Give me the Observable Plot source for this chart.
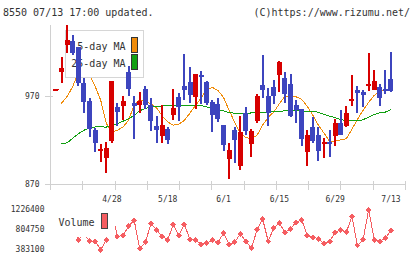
<!DOCTYPE html>
<html><head><meta charset="utf-8">
<script src="https://cdn.jsdelivr.net/npm/d3@7"></script>
<script src="https://cdn.jsdelivr.net/npm/@observablehq/plot@0.6"></script>
<style>
html,body{margin:0;padding:0;background:#fff;}
#wrap{position:relative;width:420px;height:259px;overflow:hidden;font-family:"DejaVu Sans Mono",monospace;}
.hdr{position:absolute;top:7px;font-size:10px;color:#333;line-height:12px;white-space:pre;}
#hl{left:3px;}
#hr{right:10px;}
#price,#vol{position:absolute;left:0;}
#price{top:0;}
#vol{top:200px;}
svg{shape-rendering:crispEdges;}
</style></head><body>
<div id="wrap">
<div class="hdr" id="hl">8550 07/13 17:00 updated.</div>
<div class="hdr" id="hr">(C)https://www.rizumu.net/</div>
<div id="price"></div>
<div id="vol"></div>
</div>
<script>
const opens = [977,998,1028,1033,1026,985,965,931,908,900,
  919,958,959,997,962,960,978,960,936,925,
  933,949,969,982,986,969,994,986,963,961,
  937,899,932,891,951,915,942,983,970,980,
  994,991,984,960,955,906,935,926,915,918,
  925,939,936,965,977,975,982,977,980,978,990];
const highs = [978,1015,1051,1040,1026,991,968,934,915,918,
  987,962,970,1004,970,975,982,968,947,960,
  935,978,974,1018,1003,995,999,987,966,968,
  937,917,935,947,958,933,973,1017,979,988,
  1010,998,995,966,955,932,946,935,922,931,
  944,954,959,994,981,977,1019,1000,984,1000,1020];
const lows = [977,985,1019,1017,981,951,924,906,895,883,
  917,936,943,970,921,951,955,930,917,917,
  915,943,942,966,962,955,961,960,929,941,
  907,876,894,886,926,901,939,968,936,961,
  975,962,946,940,913,891,917,896,900,901,
  913,926,935,959,951,958,976,977,959,973,975];
const closes = [978,1002,1034,1019,985,963,933,917,909,911,
  987,952,964,978,959,964,960,942,932,937,
  920,957,958,977,971,995,992,962,949,944,
  914,909,920,929,930,930,970,977,951,970,
  1009,973,947,954,921,926,919,908,918,915,
  939,926,951,967,974,971,983,987,968,976,976];
const ma5 = [null,962.7,970.3,981.7,997.6,1002.1,995.3,981.7,965.8,939.7,
  929.5,931.8,935.5,943.1,961.3,966.4,965.0,961.8,957.3,948.2,
  941.2,937.5,938.6,943.1,951.4,960.1,968.9,978.3,980.5,977.1,
  969.2,954.5,940.9,928.4,923.3,922.2,926.1,937.5,946.5,952.5,
  961.8,970.3,970.9,969.8,966.9,959.0,948.8,937.5,928.4,919.3,
  919.3,920.8,922.2,932.9,944.3,954.5,963.5,971.5,976.0,977.1,979.4];
const ma25 = [null,916.7,917.4,922.7,927.8,931.8,934.6,935.5,935.5,935.4,
  936.9,939.2,942.0,944.8,948.8,953.9,956.7,957.9,959.0,959.3,
  959.6,959.7,959.7,959.7,959.8,959.9,959.8,958.4,956.7,955.0,
  953.7,951.9,951.1,951.1,951.3,951.4,951.6,952.0,952.7,953.1,
  953.6,953.7,953.7,953.7,953.7,953.6,953.3,952.2,949.9,947.9,
  946.0,943.9,942.6,942.3,942.6,943.7,946.8,949.6,951.6,952.5,955.3];
const volumes = [850000,920000,1050000,960000,593900,726700,564400,564400,383100,593900,
  1180000,663500,684600,884900,1000800,404200,543300,931300,804750,663500,
  593900,916500,684600,916500,593900,593900,494800,522300,593900,543300,
  733100,494800,543300,720400,564400,416800,804750,1036700,564400,846900,
  943900,754200,825800,965000,1015600,684600,648700,615000,509600,558100,
  754200,804750,754200,1085200,473800,593900,1226400,593900,558100,636100,790000];
const dateIdx = [11,21,31,41,51,61];
const dateLabels = ["4/28","5/18","6/1","6/15","6/29","7/13"];
const priceTicks = [870,970];
const volTicks = [383100,804750,1226400];

const FONT = "DejaVu Sans Mono";
const AX = "#d0d0d0";
const TXT = "#333";
const RED = "#d70000";
const BLUE = "#3d45be";
const ORANGE = "#f08c0a";
const GREEN = "#11a011";
const VOLC = "#f55d61";

const xDomain = [0, 63.6];
const xTicks = d3.range(12).map(k => xDomain[0] + k * (xDomain[1] - xDomain[0]) / 11);

const candles = closes.map((c, k) => ({i: k + 1, o: opens[k], h: highs[k], l: lows[k], c}));
const ma5Data = ma5.map((v, k) => ({i: k + 1, v}));
const ma25Data = ma25.map((v, k) => ({i: k + 1, v}));
const volData = volumes.map((v, k) => ({i: k + 1, v}));
const candleColor = d => (d.c >= d.o ? RED : BLUE);

function priceLegend() {
  const g = d3.create("svg:g");
  g.append("rect").attr("x", 65.5).attr("y", 30.5).attr("width", 77.5).attr("height", 46.5)
    .attr("fill", "#fff").attr("stroke", "#d6d6d6");
  g.append("text").attr("x", 125.5).attr("y", 49.5).attr("text-anchor", "end")
    .attr("font-size", 10).attr("fill", TXT).text("5-day MA");
  g.append("text").attr("x", 125.5).attr("y", 66.8).attr("text-anchor", "end")
    .attr("font-size", 10).attr("fill", TXT).text("25-day MA");
  g.append("rect").attr("x", 131.5).attr("y", 37.5).attr("width", 6).attr("height", 15)
    .attr("fill", ORANGE).attr("stroke", "#333");
  g.append("rect").attr("x", 131.5).attr("y", 54.5).attr("width", 6).attr("height", 15)
    .attr("fill", GREEN).attr("stroke", "#333");
  return g.node();
}

function volLegend() {
  const g = d3.create("svg:g");
  g.append("rect").attr("x", 50).attr("y", 4).attr("width", 64.5).attr("height", 32.5).attr("fill", "#fff");
  g.append("text").attr("x", 94.5).attr("y", 25.7).attr("text-anchor", "end")
    .attr("font-size", 10).attr("fill", TXT).text("Volume");
  g.append("rect").attr("x", 101.5).attr("y", 13.5).attr("width", 6).attr("height", 15)
    .attr("fill", VOLC).attr("stroke", "#444");
  return g.node();
}

const price = Plot.plot({
  width: 420, height: 200,
  marginTop: 25, marginBottom: 16, marginLeft: 50, marginRight: 15,
  x: {domain: xDomain, label: null},
  y: {domain: [870, 1051], label: null},
  color: {type: "identity"},
  style: {fontFamily: FONT, fontSize: "8px", color: TXT, background: "transparent", overflow: "visible"},
  marks: [
    Plot.ruleX([0], {stroke: AX}),
    Plot.ruleY([870], {stroke: AX}),
    Plot.axisX(xTicks, {tickSize: 9, dy: -3, stroke: AX, label: null, tickFormat: () => ""}),
    Plot.axisX(dateIdx, {tickSize: 0, tickPadding: 12, fill: TXT, fontSize: 8, label: null,
      tickFormat: d => dateLabels[dateIdx.indexOf(d)]}),
    Plot.axisY(priceTicks, {tickSize: 8, dx: 3, tickPadding: 6, stroke: AX, fill: TXT, fontSize: 8, label: null}),
    Plot.line(ma5Data, {x: "i", y: "v", stroke: ORANGE, strokeWidth: 1}),
    Plot.line(ma25Data, {x: "i", y: "v", stroke: GREEN, strokeWidth: 1}),
    priceLegend,
    Plot.ruleX(candles, {x: "i", y1: "l", y2: "h", stroke: candleColor, strokeWidth: 2}),
    Plot.ruleX(candles, {x: "i", y1: "o", y2: "c", stroke: candleColor, strokeWidth: 5}),
    Plot.ruleY(candles.filter(d => Math.abs(d.c - d.o) <= 1),
      {x1: d => d.i - 0.45, x2: d => d.i + 0.45, y: "c", stroke: candleColor, strokeWidth: 2})
  ]
});
document.getElementById("price").appendChild(price);

const vol = Plot.plot({
  width: 420, height: 59,
  marginTop: 9.3, marginBottom: 9.7, marginLeft: 50, marginRight: 15,
  x: {domain: xDomain, axis: null, label: null},
  y: {domain: [383100, 1226400], label: null},
  style: {fontFamily: FONT, fontSize: "8px", color: TXT, background: "transparent", overflow: "visible"},
  marks: [
    Plot.line(volData, {x: "i", y: "v", stroke: VOLC, strokeWidth: 1}),
    Plot.dot(volData, {x: "i", y: "v", symbol: "diamond2", r: 2.7, fill: VOLC}),
    volLegend,
    Plot.axisY(volTicks, {tickSize: 0, tickPadding: 6, fill: TXT, fontSize: 8, label: null, tickFormat: d => String(d)})
  ]
});
document.getElementById("vol").appendChild(vol);
</script>
</body></html>
